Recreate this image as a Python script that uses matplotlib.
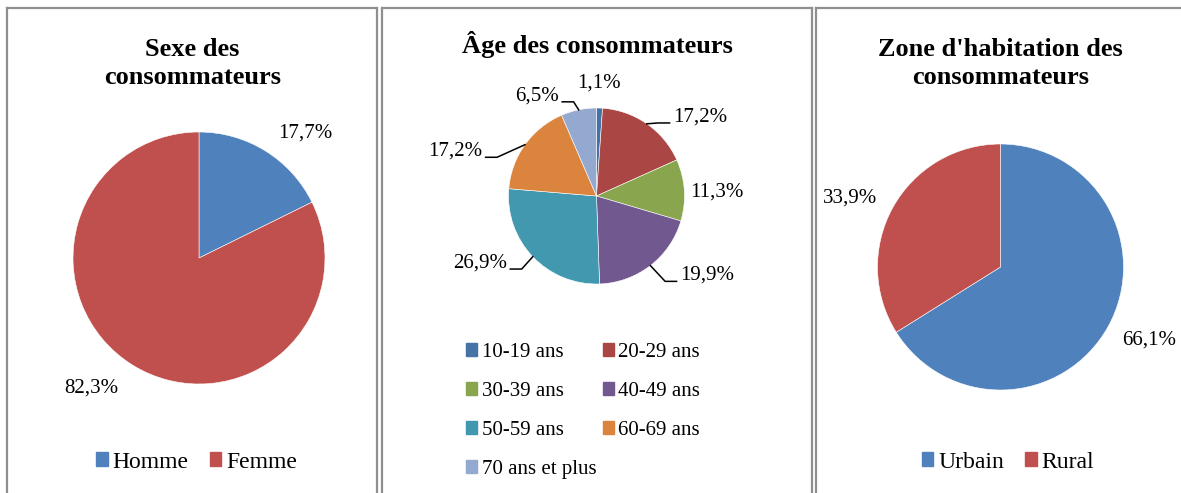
import matplotlib.pyplot as plt
from matplotlib.patches import Patch
from matplotlib.lines import Line2D
import numpy as np

plt.rcParams["font.family"] = ["Liberation Serif", "DejaVu Serif"]

# data
sexe_labels = ["Homme", "Femme"]
sexe_values = [17.7, 82.3]
sexe_colors = ["#4F81BD", "#C0504D"]

age_labels = ["10-19 ans", "20-29 ans", "30-39 ans", "40-49 ans",
              "50-59 ans", "60-69 ans", "70 ans et plus"]
age_values = [1.1, 17.2, 11.3, 19.9, 26.9, 17.2, 6.5]
age_colors = ["#4572A7", "#AA4643", "#89A54E", "#71588F",
              "#4198AF", "#DB843D", "#93A9CF"]

zone_labels = ["Urbain", "Rural"]
zone_values = [66.1, 33.9]
zone_colors = ["#4F81BD", "#C0504D"]

W, H = 1181, 493
fig = plt.figure(figsize=(W / 100, H / 100), dpi=100)


def fx(x):
    return x / W


def fy(y):
    return 1 - y / H


def pie_axes(cx, cy, r):
    ax = fig.add_axes([fx(cx - r), fy(cy + r), 2 * r / W, 2 * r / H])
    return ax


def pct(v):
    return f"{v:.1f}%".replace(".", ",")


# panel borders (table cells)
border = "#8f8f8f"
for x0, x1 in [(7, 377), (382, 812), (816, 1200)]:
    for xs, ys in [([x0, x0], [8, 500]), ([x1, x1], [8, 500]), ([x0, x1], [8, 8])]:
        fig.add_artist(Line2D([fx(v) for v in xs], [fy(v) for v in ys],
                              transform=fig.transFigure, color=border, lw=1.6))

# titles (baseline of the last line)
title_kw = dict(fontsize=19, fontweight="bold", ha="center", va="baseline",
                linespacing=1.3)
fig.text(fx(192.5), fy(84), "Sexe des\nconsommateurs", **title_kw)
fig.text(fx(597), fy(53), "Âge des consommateurs", **title_kw)
fig.text(fx(1000.5), fy(84), "Zone d'habitation des\nconsommateurs", **title_kw)

wp = dict(edgecolor="white", linewidth=0.4)

# --- Sexe
ax1 = pie_axes(199, 258, 126)
ax1.pie(sexe_values, colors=sexe_colors, startangle=90, counterclock=False,
        wedgeprops=wp)
ax1.set_xlim(-1, 1)
ax1.set_ylim(-1, 1)
sexe_pos = [(0.84, 0.99), (-0.857, -1.03)]
for v, (dx, dy) in zip(sexe_values, sexe_pos):
    ax1.text(dx, dy, pct(v), fontsize=15, ha="center", va="center")
ax1.legend([Patch(color=c) for c in sexe_colors], sexe_labels,
           loc="center", bbox_to_anchor=(fx(196.5), fy(462)),
           bbox_transform=fig.transFigure, ncol=2, frameon=False,
           fontsize=17, handlelength=0.5, handleheight=0.5,
           handletextpad=0.2, columnspacing=0.9, borderaxespad=0)

# --- Age
ax2 = pie_axes(596.5, 196, 88)
wedges, _ = ax2.pie(age_values, colors=age_colors, startangle=90,
                    counterclock=False, wedgeprops=wp)
ax2.set_xlim(-1, 1)
ax2.set_ylim(-1, 1)
age_pos = [(0.03, 1.28, "center", False), (0.87, 0.90, "left", True),
           (1.07, 0.05, "left", False), (0.95, -0.90, "left", True),
           (-1.02, -0.76, "right", True), (-1.30, 0.51, "right", True),
           (-0.43, 1.14, "right", True)]
for w, v, (dx, dy, ha, lead) in zip(wedges, age_values, age_pos):
    ax2.text(dx, dy, pct(v), fontsize=15, ha=ha, va="center")
    if lead:
        a = np.deg2rad((w.theta1 + w.theta2) / 2)
        s = 1 if ha == "left" else -1
        ax2.plot([np.cos(a), dx - s * 0.17, dx - s * 0.04],
                 [np.sin(a), dy - 0.07, dy - 0.07],
                 color="black", lw=1.1, clip_on=False)
order = [0, 2, 4, 6, 1, 3, 5]
ax2.legend([Patch(color=age_colors[i]) for i in order],
           [age_labels[i] for i in order],
           loc="upper left", bbox_to_anchor=(fx(466), fy(343)),
           bbox_transform=fig.transFigure, ncol=2, frameon=False,
           fontsize=15, handlelength=0.55, handleheight=0.55,
           handletextpad=0.2, columnspacing=0.3, labelspacing=0.96,
           borderaxespad=0, borderpad=0)

# --- Zone
ax3 = pie_axes(1000.5, 267, 123)
ax3.pie(zone_values, colors=zone_colors, startangle=90, counterclock=False,
        wedgeprops=wp)
ax3.set_xlim(-1, 1)
ax3.set_ylim(-1, 1)
zone_pos = [(1.21, -0.59), (-1.22, 0.56)]
for v, (dx, dy) in zip(zone_values, zone_pos):
    ax3.text(dx, dy, pct(v), fontsize=15, ha="center", va="center")
ax3.legend([Patch(color=c) for c in zone_colors], zone_labels,
           loc="center", bbox_to_anchor=(fx(1008), fy(462)),
           bbox_transform=fig.transFigure, ncol=2, frameon=False,
           fontsize=17, handlelength=0.5, handleheight=0.5,
           handletextpad=0.2, columnspacing=0.9, borderaxespad=0)

fig.savefig("out.png", dpi=100)
